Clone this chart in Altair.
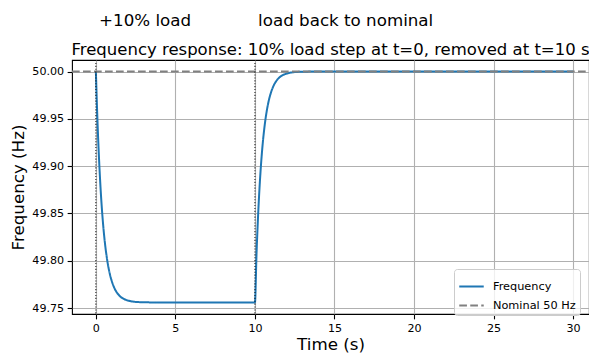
import altair as alt
import pandas as pd

# --- data ---
time = [0.0, 0.1, 0.2, 0.3, 0.4, 0.5, 0.6, 0.7, 0.8, 0.9, 1.0, 1.2, 1.4, 1.6, 1.8,
        2.0, 2.5, 3.0, 4.0, 6.0, 8.0, 10.0, 10.1, 10.2, 10.3, 10.4, 10.5, 10.6, 10.7,
        10.8, 10.9, 11.0, 11.2, 11.4, 11.6, 11.8, 12.0, 12.5, 13.0, 14.0, 20.0, 30.0]
freq = [50.0000, 49.9483, 49.9075, 49.8754, 49.8501, 49.8302, 49.8145, 49.8021,
        49.7923, 49.7846, 49.7786, 49.7700, 49.7647, 49.7614, 49.7594, 49.7581,
        49.7566, 49.7562, 49.7560, 49.7560, 49.7560, 49.7560, 49.8077, 49.8485,
        49.8806, 49.9059, 49.9258, 49.9415, 49.9539, 49.9637, 49.9714, 49.9774,
        49.9860, 49.9913, 49.9946, 49.9966, 49.9979, 49.9994, 49.9998, 50.0000,
        50.0000, 50.0000]
nominal_t = [-1.5, 31.5]
nominal_f = [50.0, 50.0]
event_t = [0, 10]
note_t = [0.2, 10.2]
note_f = [50.048, 50.048]
note_text = ["+10% load", "load back to nominal"]
x_ticks = [0, 5, 10, 15, 20, 25, 30]
y_ticks = [49.75, 49.80, 49.85, 49.90, 49.95, 50.00]
x_domain = [-1.5, 31.0]
y_domain = [49.7438, 50.0122]
series_names = ["Frequency", "Nominal 50 Hz"]

FONT = "DejaVu Sans"

lines = pd.concat([
    pd.DataFrame({"t": time, "f": freq, "series": series_names[0]}),
    pd.DataFrame({"t": nominal_t, "f": nominal_f, "series": series_names[1]}),
], ignore_index=True)
events = pd.DataFrame({"t": event_t})
notes = pd.DataFrame({"t": note_t, "f": note_f, "label": note_text})

xscale = alt.Scale(domain=x_domain, nice=False, zero=False)
yscale = alt.Scale(domain=y_domain, nice=False, zero=False)

line_layer = alt.Chart(lines).mark_line(strokeWidth=2, interpolate="monotone", clip=True).encode(
    x=alt.X("t:Q", scale=xscale, title="Time (s)",
            axis=alt.Axis(values=x_ticks, format="d")),
    y=alt.Y("f:Q", scale=yscale, title="Frequency (Hz)",
            axis=alt.Axis(values=y_ticks, format=".2f")),
    color=alt.Color("series:N",
                    scale=alt.Scale(domain=series_names, range=["#1f77b4", "#808080"]),
                    legend=alt.Legend(title=None)),
    strokeDash=alt.StrokeDash("series:N",
                              scale=alt.Scale(domain=series_names, range=[[1, 0], [7.7, 3.3]]),
                              legend=alt.Legend(title=None)),
    order=alt.Order("series:N"),
)

rule_layer = alt.Chart(events).mark_rule(
    color="black", strokeWidth=1.1, strokeDash=[1.1, 1.8], opacity=0.85
).encode(x=alt.X("t:Q", scale=xscale))

text_layer = alt.Chart(notes).mark_text(
    align="left", baseline="alphabetic", fontSize=16.7, font=FONT, color="black"
).encode(
    x=alt.X("t:Q", scale=xscale),
    y=alt.Y("f:Q", scale=yscale),
    text="label:N",
)

chart = alt.layer(line_layer, rule_layer, text_layer).properties(
    width=517,
    height=254,
    autosize=alt.AutoSizeParams(type="none"),
    padding={"left": 64, "top": 52, "right": 0, "bottom": 40},
    title=alt.TitleParams(
        "Frequency response: 10% load step at t=0, removed at t=10 s",
        fontSize=16.5, fontWeight="normal", font=FONT, color="black",
        anchor="middle", frame="group", baseline="alphabetic", offset=0, dy=57.9,
    ),
).configure_view(
    stroke="black", strokeWidth=1.1
).configure_axis(
    grid=True, gridColor="#b0b0b0", gridWidth=1.1,
    domain=False,
    tickColor="black", tickSize=4.86, tickWidth=1.1,
    labelFont=FONT, labelFontSize=11.1, labelColor="black", labelPadding=3.5,
    titleFont=FONT, titleFontSize=16.7, titleFontWeight="normal", titleColor="black",
).configure_axisY(
    titlePadding=4
).configure_axisX(
    titlePadding=3
).configure_legend(
    orient="none", legendX=382, legendY=209,
    fillColor="rgba(255,255,255,0.8)", strokeColor="#cccccc", cornerRadius=3,
    padding=4, labelFont=FONT, labelFontSize=11.3, labelColor="black",
    symbolType="stroke", symbolSize=600, symbolStrokeWidth=2, labelOffset=8,
    rowPadding=-10,
)

chart.save("out.html", embed_options={"renderer": "svg", "actions": False})
